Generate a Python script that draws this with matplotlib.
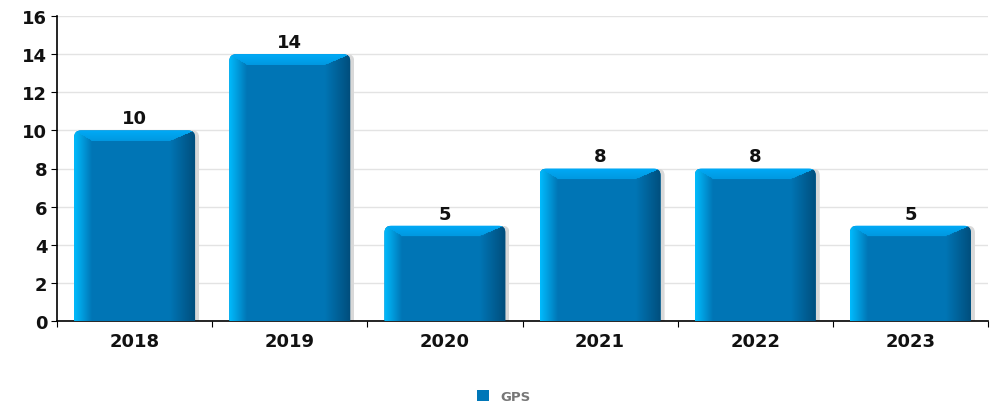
import numpy as np
import matplotlib
matplotlib.use("Agg")
import matplotlib.pyplot as plt
from matplotlib.patches import FancyBboxPatch

# data
years = ["2018", "2019", "2020", "2021", "2022", "2023"]
gps = [10, 14, 5, 8, 8, 5]
series_name = "GPS"

BODY = np.array([0.0, 0.46, 0.71])
LIGHT = np.array([0.0, 0.74, 1.0])
TOP = np.array([0.0, 0.67, 0.97])
DARK = np.array([0.0, 0.30, 0.48])
BAR_W = 0.78

fig = plt.figure(figsize=(9.98, 4.06), dpi=100)
ax = fig.add_axes([57 / 998, 1 - 322 / 406, (988 - 57) / 998, (322 - 17) / 406])
x = np.arange(len(years))
ax.set_xlim(-0.5, len(years) - 0.5)
ax.set_ylim(0, 16)

# pixel scale
p0 = ax.transData.transform((0, 0))
p1 = ax.transData.transform((1, 1))
px_x = 1.0 / (p1[0] - p0[0])
px_y = 1.0 / (p1[1] - p0[1])


def rounded(left, v):
    return FancyBboxPatch((left, -2), BAR_W, v + 2,
                          boxstyle=f"round,pad=0,rounding_size={7 * px_x}",
                          mutation_aspect=px_y / px_x,
                          transform=ax.transData, facecolor="none", edgecolor="none")


# shadow + base bar (legend handle)
shadow = ax.bar(x + 4 * px_x, gps, width=BAR_W, color="#d9d9d9", zorder=1)
base = ax.bar(x, gps, width=BAR_W, color="#0077b8", label=series_name, zorder=2)


def bevel_image(w, h, bl=18, br=26, bt=11):
    xs = np.arange(w) + 0.5
    ys = np.arange(h) + 0.5
    X, Y = np.meshgrid(xs, ys)
    tl = X / bl
    tr = (w - X) / br
    tt = Y / bt
    img = np.tile(BODY, (h, w, 1))
    m = np.minimum(np.minimum(tl, tr), tt)
    # top band
    sel = (tt == m) & (tt < 1)
    f = tt[sel][:, None]
    img[sel] = TOP * (1 - f * 0.35) + BODY * (f * 0.35)
    # left band
    sel = (tl == m) & (tl < 1)
    f = tl[sel][:, None]
    img[sel] = LIGHT * (1 - f) + BODY * f
    # right band
    sel = (tr == m) & (tr < 1)
    f = tr[sel][:, None]
    img[sel] = DARK * (1 - f) + BODY * f
    return img


for i, (xi, v) in enumerate(zip(x, gps)):
    w_px = int(round(BAR_W / px_x))
    h_px = int(round(v / px_y))
    img = bevel_image(w_px, h_px)
    left = xi - BAR_W / 2
    im = ax.imshow(img, extent=(left, left + BAR_W, 0, v), aspect="auto",
                   interpolation="bilinear", zorder=3)
    im.set_clip_path(rounded(left, v))
    base[i].set_clip_path(rounded(left, v))
    shadow[i].set_clip_path(rounded(left + 4 * px_x, v))
    ax.text(xi, v + 3 * px_y, str(v), ha="center", va="bottom",
            fontsize=13, fontweight="bold", color="#111111", zorder=4)

ax.set_xlim(-0.5, len(years) - 0.5)
ax.set_ylim(0, 16)

# axes styling
ax.set_yticks(np.arange(0, 17, 2))
ax.grid(axis="y", color="#e3e3e3", linewidth=1, zorder=0)
ax.set_axisbelow(True)
ax.set_xticks(np.arange(-0.5, len(years), 1))
ax.set_xticklabels([])
ax.set_xticks(x, minor=True)
ax.set_xticklabels(years, minor=True)
ax.tick_params(axis="x", which="major", length=4, direction="out", color="black")
ax.tick_params(axis="x", which="minor", length=0, pad=8, labelsize=13)
ax.tick_params(axis="y", length=4, labelsize=13, pad=3)
for lbl in ax.get_xticklabels(minor=True) + ax.get_yticklabels():
    lbl.set_fontweight("bold")
    lbl.set_color("#111111")
ax.spines["top"].set_visible(False)
ax.spines["right"].set_visible(False)
ax.spines["left"].set_linewidth(1.2)
ax.spines["bottom"].set_linewidth(1.2)

leg = fig.legend(loc="lower center", bbox_to_anchor=(0.505, -0.025), frameon=False,
                 handlelength=0.9, handleheight=0.9, handletextpad=0.9,
                 prop={"size": 9.5, "weight": "bold"})
for t in leg.get_texts():
    t.set_color("#777777")

fig.savefig("out.png", dpi=100)
